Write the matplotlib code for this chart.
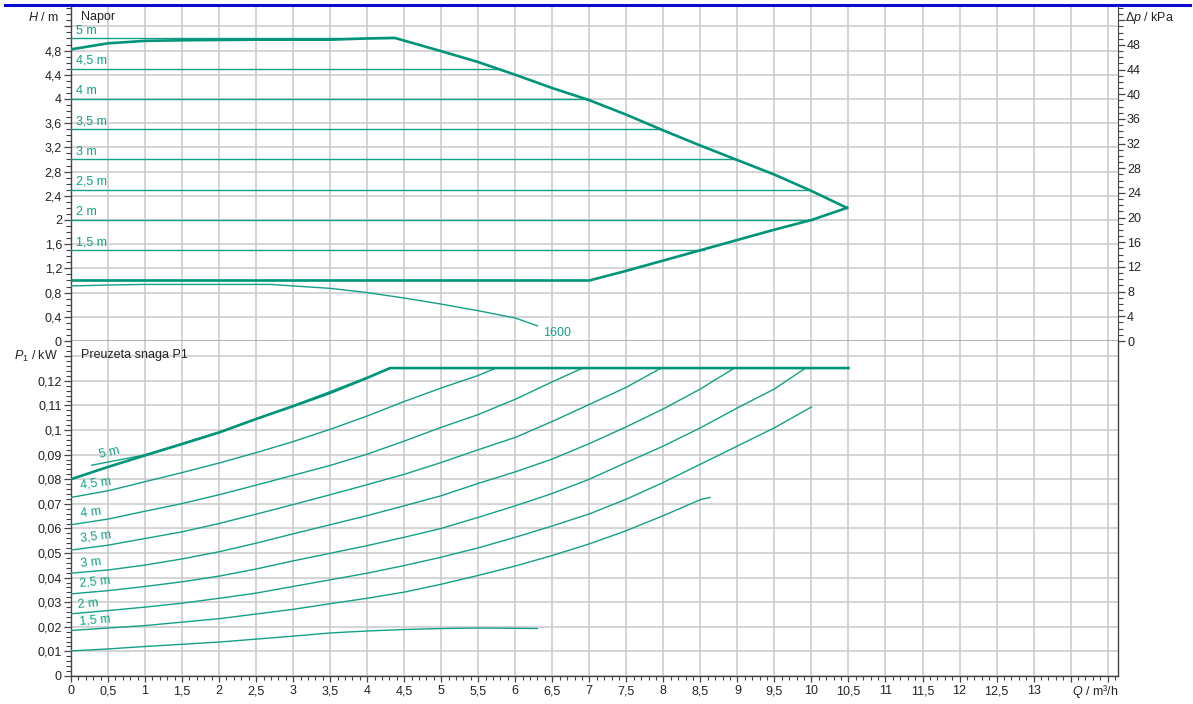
import matplotlib
matplotlib.use('Agg')
import matplotlib.pyplot as plt
from matplotlib.ticker import MultipleLocator, FuncFormatter, FixedLocator
from matplotlib.lines import Line2D
import numpy as np

plt.rcParams['font.family'] = ['Liberation Sans', 'DejaVu Sans']
plt.rcParams['mathtext.fontset'] = 'custom'
plt.rcParams['mathtext.rm'] = 'Liberation Sans'
plt.rcParams['mathtext.it'] = 'Liberation Sans:italic'

# ---------------- DATA ----------------
# Head (top panel)
max_q = [0, 0.5, 1.0, 1.5, 2.5, 3.5, 4.0, 4.37, 5.0, 5.5, 6.0, 6.5, 7.0, 7.5, 8.0, 8.5, 9.0, 9.5, 10.0, 10.48]
max_h = [4.82, 4.92, 4.96, 4.97, 4.98, 4.98, 5.0, 5.01, 4.79, 4.61, 4.40, 4.18, 3.98, 3.74, 3.48, 3.23, 2.99, 2.75, 2.48, 2.2]

min_q = [0, 7.0, 7.5, 8.0, 8.5, 9.0, 9.5, 10.0, 10.48]
min_h = [1.0, 1.0, 1.16, 1.33, 1.5, 1.67, 1.84, 2.0, 2.2]

const_labels = ['5 m', '4,5 m', '4 m', '3,5 m', '3 m', '2,5 m', '2 m', '1,5 m']
const_h = [5.0, 4.5, 4.0, 3.5, 3.0, 2.5, 2.0, 1.5]
const_end = [4.37, 5.75, 7.0, 7.97, 8.97, 9.96, 10.02, 8.55]

n1600_q = [0, 0.5, 1.0, 2.0, 2.7, 3.0, 3.5, 4.0, 4.5, 5.0, 5.5, 6.0, 6.3]
n1600_h = [0.91, 0.925, 0.935, 0.935, 0.935, 0.91, 0.87, 0.80, 0.71, 0.61, 0.50, 0.38, 0.25]

# Power input P1 (bottom panel)
pmax_q = [0, 0.5, 1.0, 1.5, 2.0, 2.5, 3.0, 3.5, 4.0, 4.31, 10.5]
pmax_p = [0.080, 0.0850, 0.0897, 0.0943, 0.0990, 0.1045, 0.1097, 0.1151, 0.1212, 0.1252, 0.1252]

p5_q = [0.28, 1.0, 2.0, 3.0, 4.0, 4.31]
p5_p = [0.0857, 0.0899, 0.0992, 0.1099, 0.1214, 0.1252]

p45_q = [0, 0.5, 1, 1.5, 2, 2.5, 3, 3.5, 4, 4.5, 5, 5.5, 5.74]
p45_p = [0.0726, 0.0753, 0.0790, 0.0827, 0.0866, 0.0908, 0.0953, 0.1003, 0.1057, 0.1116, 0.1171, 0.1222, 0.1252]

p4_q = [0, 0.5, 1, 1.5, 2, 2.5, 3, 3.5, 4, 4.5, 5, 5.5, 6, 6.5, 6.91]
p4_p = [0.0615, 0.0638, 0.0670, 0.0701, 0.0737, 0.0776, 0.0816, 0.0856, 0.0902, 0.0955, 0.1011, 0.1063, 0.1125, 0.1196, 0.1252]

p35_q = [0, 0.5, 1, 1.5, 2, 2.5, 3, 3.5, 4, 4.5, 5, 5.5, 6, 6.5, 7, 7.5, 7.97]
p35_p = [0.0512, 0.0532, 0.0559, 0.0586, 0.0620, 0.0658, 0.0697, 0.0737, 0.0778, 0.0820, 0.0868, 0.0920, 0.0970, 0.1035, 0.1104, 0.1174, 0.1252]

p3_q = [0, 0.5, 1, 1.5, 2, 2.5, 3, 3.5, 4, 4.5, 5, 5.5, 6, 6.5, 7, 7.5, 8, 8.5, 8.96]
p3_p = [0.0418, 0.0431, 0.0451, 0.0476, 0.0505, 0.0540, 0.0578, 0.0615, 0.0652, 0.0692, 0.0733, 0.0783, 0.0830, 0.0882, 0.0945, 0.1013, 0.1086, 0.1167, 0.1252]

p25_q = [0, 0.5, 1, 1.5, 2, 2.5, 3, 3.5, 4, 4.5, 5, 5.5, 6, 6.5, 7, 7.5, 8, 8.5, 9, 9.5, 9.92]
p25_p = [0.0334, 0.0347, 0.0364, 0.0383, 0.0406, 0.0435, 0.0468, 0.0499, 0.0530, 0.0564, 0.0600, 0.0645, 0.0692, 0.0742, 0.0800, 0.0868, 0.0935, 0.1009, 0.1090, 0.1167, 0.1252]

p2_q = [0, 0.5, 1, 1.5, 2, 2.5, 3, 3.5, 4, 4.5, 5, 5.5, 6, 6.5, 7, 7.5, 8, 8.5, 9, 9.5, 10.0]
p2_p = [0.0253, 0.0266, 0.0280, 0.0296, 0.0316, 0.0337, 0.0364, 0.0391, 0.0418, 0.0449, 0.0483, 0.0521, 0.0564, 0.0610, 0.0659, 0.0719, 0.0787, 0.0861, 0.0935, 0.1009, 0.1094]

p15_q = [0, 0.5, 1, 1.5, 2, 2.5, 3, 3.5, 4, 4.5, 5, 5.5, 6, 6.5, 7, 7.5, 8, 8.5, 8.63]
p15_p = [0.0185, 0.0195, 0.0205, 0.0219, 0.0233, 0.0252, 0.0271, 0.0294, 0.0316, 0.0341, 0.0373, 0.0409, 0.0447, 0.0490, 0.0537, 0.0591, 0.0652, 0.0717, 0.0726]

p1_q = [0, 0.5, 1, 1.5, 2, 2.5, 3, 3.5, 4, 4.5, 5, 5.5, 6, 6.3]
p1_p = [0.0102, 0.0110, 0.0120, 0.0129, 0.0138, 0.0150, 0.0162, 0.0175, 0.0183, 0.0189, 0.0193, 0.0195, 0.0194, 0.0193]

p_label_text = ['5 m', '4,5 m', '4 m', '3,5 m', '3 m', '2,5 m', '2 m', '1,5 m']
p_label_q = [0.38, 0.13, 0.13, 0.13, 0.13, 0.11, 0.09, 0.11]
p_label_p = [0.0897, 0.0773, 0.0658, 0.0560, 0.0455, 0.0374, 0.0290, 0.0222]
p_label_rot = [13, 8, 7, 7, 6, 6, 5, 5]

# ---------------- STYLE ----------------
TEAL = '#13a088'
TEAL_D = '#009479'
GRID = '#c9c9c9'
SPINE = '#444444'
TXT = '#222222'

fig = plt.figure(figsize=(11.93, 7.04), dpi=100)
L, R = 71 / 1193, 1118 / 1193
ax1 = fig.add_axes([L, 1 - 341 / 704, R - L, (341 - 7) / 704])
ax2 = fig.add_axes([L, 1 - 676 / 704, R - L, (676 - 341) / 704], sharex=ax1)

XMAX = 14.14
ax1.set_xlim(0, XMAX)
ax1.set_ylim(0, 5.52)
ax2.set_ylim(0, 0.1362)


def comma(v, pos=None):
    s = f'{round(v, 4):g}'
    return s.replace('.', ',')


for ax in (ax1, ax2):
    for s in ('left', 'right', 'bottom', 'top'):
        ax.spines[s].set_color(SPINE)
        ax.spines[s].set_linewidth(1.0)
    ax.xaxis.set_major_locator(MultipleLocator(0.5))
    ax.xaxis.set_minor_locator(MultipleLocator(0.1))
    ax.grid(True, which='major', color=GRID, linewidth=1.1, zorder=0)
    ax.set_axisbelow(True)
    ax.tick_params(axis='y', which='major', direction='out', length=5, width=0.9,
                   color=SPINE, labelsize=9, labelcolor=TXT, pad=1.5)
    ax.tick_params(axis='y', which='minor', direction='out', length=3.5, width=0.8, color=SPINE)

ax1.spines['top'].set_visible(False)
ax1.spines['right'].set_visible(False)
ax2.spines['top'].set_visible(False)
ax1.spines['bottom'].set_color('#333333')

# Top axis ticks
ax1.yaxis.set_major_locator(FixedLocator([i * 0.4 for i in range(14)]))
ax1.yaxis.set_minor_locator(MultipleLocator(0.1))
ax1.yaxis.set_major_formatter(FuncFormatter(lambda v, p: '' if v > 4.85 else comma(v)))
ax1.tick_params(axis='x', which='both', bottom=False, labelbottom=False)

# Bottom axis ticks
ax2.yaxis.set_major_locator(MultipleLocator(0.01))
ax2.yaxis.set_minor_locator(MultipleLocator(0.002))
ax2.yaxis.set_major_formatter(FuncFormatter(lambda v, p: '' if v > 0.125 else comma(v)))
ax2.xaxis.set_major_formatter(FuncFormatter(lambda v, p: '' if v > 13.2 else comma(v)))
ax2.tick_params(axis='x', which='major', direction='out', length=4.5, width=0.9,
                color=SPINE, labelsize=9, labelcolor=TXT, pad=2)
ax2.tick_params(axis='x', which='minor', direction='out', length=3.2, width=0.8, color=SPINE)

# Secondary axis (kPa)
sec = ax1.secondary_yaxis('right', functions=(lambda h: h * 9.81, lambda k: k / 9.81))
sec.spines['right'].set_color(SPINE)
sec.yaxis.set_major_locator(FixedLocator(list(range(0, 53, 4))))
sec.yaxis.set_minor_locator(MultipleLocator(1))
sec.yaxis.set_major_formatter(FuncFormatter(lambda v, p: '' if v > 49 else f'{v:g}'))
sec.tick_params(axis='y', which='major', direction='out', length=5, width=0.9,
                color=SPINE, labelsize=9, labelcolor=TXT, pad=1.5)
sec.tick_params(axis='y', which='minor', direction='out', length=3.5, width=0.8, color=SPINE)

# ---- Top panel curves ----
for lab, h, e in zip(const_labels, const_h, const_end):
    ax1.plot([0, e], [h, h], color=TEAL, lw=1.0, zorder=3)
    ax1.text(0.07, h + 0.03, lab, color=TEAL, fontsize=9, ha='left', va='bottom', zorder=4)
ax1.plot(max_q, max_h, color=TEAL_D, lw=1.9, zorder=4, solid_joinstyle='round')
ax1.plot(min_q, min_h, color=TEAL_D, lw=1.9, zorder=4, solid_joinstyle='round')
ax1.plot(n1600_q, n1600_h, color=TEAL, lw=1.0, zorder=3)
ax1.text(6.38, 0.13, '1600', color=TEAL, fontsize=9, ha='left', va='center')

ax1.text(-0.012, 5.35, r'$H$ / m', transform=ax1.get_yaxis_transform(), ha='right', va='center',
         fontsize=9, color=TXT)
ax1.text(0.13, 5.35, 'Napor', ha='left', va='center', fontsize=9, color=TXT)
fig.text(1125 / 1193, 1 - 18 / 704, r'$\mathit{\Delta p}$ / kPa', ha='left', va='center',
         fontsize=9, color=TXT)

# ---- Bottom panel curves ----
curves = [(p5_q, p5_p), (p45_q, p45_p), (p4_q, p4_p), (p35_q, p35_p), (p3_q, p3_p),
          (p25_q, p25_p), (p2_q, p2_p), (p15_q, p15_p), (p1_q, p1_p)]
for q, p in curves:
    ax2.plot(q, p, color=TEAL, lw=1.0, zorder=3)
ax2.plot(pmax_q, pmax_p, color=TEAL_D, lw=1.9, zorder=4, solid_joinstyle='round')

for t, q, p, r in zip(p_label_text, p_label_q, p_label_p, p_label_rot):
    ax2.text(q, p, t, color=TEAL, fontsize=9, ha='left', va='center', rotation=r,
             rotation_mode='anchor', zorder=4)

ax2.text(-0.012, 0.1298, r'$P_1$ / kW', transform=ax2.get_yaxis_transform(), ha='right',
         va='center', fontsize=9, color=TXT)
ax2.text(0.13, 0.1305, 'Preuzeta snaga P1', ha='left', va='center', fontsize=9, color=TXT)

fig.text(1118 / 1193, 1 - 692 / 704, r'$Q$ / m³/h', ha='right', va='center', fontsize=9, color=TXT)

# Blue top rule
fig.add_artist(Line2D([5 / 1193, 1190 / 1193], [1 - 5 / 704, 1 - 5 / 704],
                      color='#0a0ad0', lw=2.2, transform=fig.transFigure))

fig.savefig('out.png', dpi=100)
